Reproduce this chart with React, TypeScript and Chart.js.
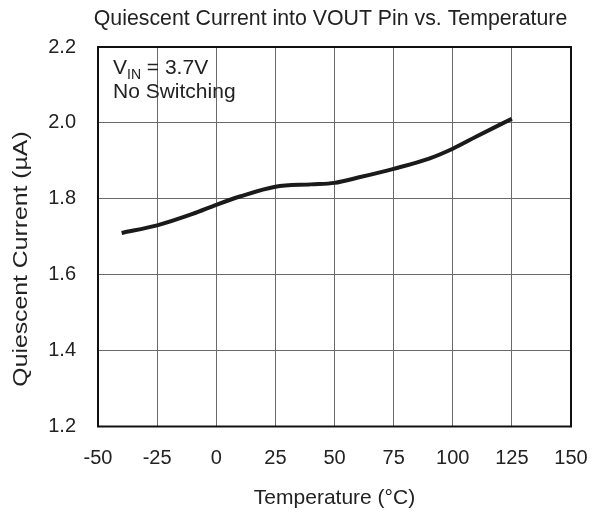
import React, { useEffect, useRef } from "react";
import { Chart, registerables } from "chart.js";

Chart.register(...registerables);

const temperatures = [-40, -25, -10, 0, 10, 25, 40, 50, 60, 75, 90, 100, 110, 125];
const currents = [1.71, 1.73, 1.76, 1.784, 1.806, 1.832, 1.838, 1.842, 1.856, 1.879, 1.906, 1.932, 1.964, 2.011];
const xTicks = [-50, -25, 0, 25, 50, 75, 100, 125, 150];
const yTicks = [1.2, 1.4, 1.6, 1.8, 2.0, 2.2];
const titleText = "Quiescent Current into VOUT Pin vs. Temperature";
const xTitle = "Temperature (°C)";
const yTitle = "Quiescent Current (µA)";
const FONT = "'Liberation Sans', Arial, sans-serif";

export default function App() {
  const ref = useRef<HTMLCanvasElement>(null);
  useEffect(() => {
    const canvas = ref.current!;
    const overlay = {
      id: "overlay",
      afterDraw(chart: any) {
        const ctx = chart.ctx;
        const a = chart.chartArea;
        ctx.save();
        ctx.strokeStyle = "#111";
        ctx.lineWidth = 2;
        ctx.strokeRect(a.left, a.top, a.right - a.left, a.bottom - a.top);
        ctx.fillStyle = "#222";
        ctx.textBaseline = "alphabetic";
        ctx.font = `21.3px ${FONT}`;
        ctx.textAlign = "center";
        ctx.fillText(titleText, 330.5, 25);
        // annotation
        ctx.textAlign = "left";
        ctx.font = `21px ${FONT}`;
        const x0 = a.left + 15;
        ctx.fillText("V", x0, 74);
        const vw = ctx.measureText("V").width;
        ctx.font = `14px ${FONT}`;
        ctx.fillText("IN", x0 + vw, 79);
        const inw = ctx.measureText("IN").width;
        ctx.font = `21px ${FONT}`;
        ctx.fillText(" = 3.7V", x0 + vw + inw, 74);
        ctx.fillText("No Switching", x0, 98);
        // y axis title (stretched along its length like the reference)
        ctx.save();
        ctx.translate(21, 259);
        ctx.rotate(-Math.PI / 2);
        ctx.scale(1.18, 1);
        ctx.textAlign = "center";
        ctx.textBaseline = "middle";
        ctx.font = `21px ${FONT}`;
        ctx.fillText(yTitle, 0, 0);
        ctx.restore();
        ctx.restore();
      },
    };
    const chart = new Chart(canvas, {
      type: "line",
      data: {
        datasets: [
          {
            data: temperatures.map((t, i) => ({ x: t, y: currents[i] })),
            borderColor: "#1a1a1a",
            borderWidth: 4,
            pointRadius: 0,
            cubicInterpolationMode: "monotone",
            fill: false,
          },
        ],
      },
      options: {
        animation: false,
        responsive: false,
        layout: { padding: { left: 0, right: 30, top: 47, bottom: 0 } },
        plugins: { legend: { display: false }, tooltip: { enabled: false } },
        scales: {
          x: {
            type: "linear",
            min: -50,
            max: 150,
            afterBuildTicks: (s: any) => {
              s.ticks = xTicks.map((v) => ({ value: v }));
            },
            afterFit: (s: any) => {
              s.height = 85.5;
              s.paddingLeft = 0;
              s.paddingRight = 0;
            },
            grid: { color: "#6a6a6a", lineWidth: 1, drawTicks: false },
            border: { display: false },
            ticks: {
              color: "#222",
              font: { family: FONT, size: 20 },
              padding: 20,
              callback: (v: any) => String(v),
              maxRotation: 0,
              autoSkip: false,
            },
            title: {
              display: true,
              text: xTitle,
              color: "#222",
              font: { family: FONT, size: 21 },
              padding: { top: 12, bottom: 1 },
            },
          },
          y: {
            type: "linear",
            min: 1.2,
            max: 2.2,
            afterBuildTicks: (s: any) => {
              s.ticks = yTicks.map((v) => ({ value: v }));
            },
            afterFit: (s: any) => {
              s.width = 98;
              s.paddingTop = 0;
              s.paddingBottom = 0;
            },
            grid: { color: "#6a6a6a", lineWidth: 1, drawTicks: false },
            border: { display: false },
            ticks: {
              color: "#222",
              font: { family: FONT, size: 20 },
              padding: 22,
              callback: (v: any) => Number(v).toFixed(1),
              autoSkip: false,
            },
            title: { display: false },
          },
        },
      },
      plugins: [overlay],
    } as any);
    return () => chart.destroy();
  }, []);
  return (
    <canvas
      ref={ref}
      width={601}
      height={512}
      style={{ position: "absolute", left: 0, top: 0, width: 601, height: 512, background: "#fff" }}
    />
  );
}
